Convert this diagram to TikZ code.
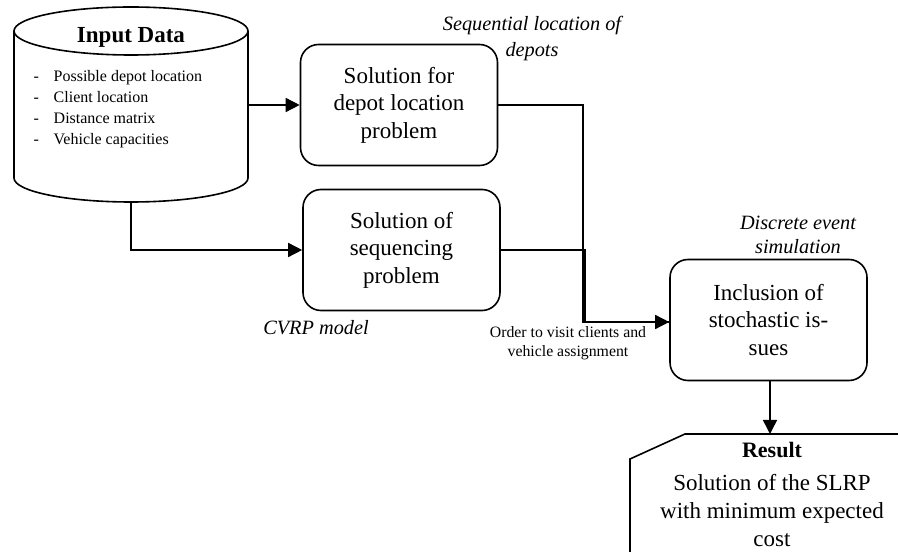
\documentclass[tikz,border=0pt]{standalone}
\usepackage{fontspec}
\setmainfont{Liberation Serif}
\usetikzlibrary{arrows.meta,calc}
\begin{document}
\begin{tikzpicture}[x=1pt,y=1pt,
  line width=1.4pt,
  proc/.style={draw,line width=1.6pt,rounded corners=18pt,minimum width=197pt,minimum height=121pt,align=center,inner sep=2pt,font=\fontsize{23}{27.5}\selectfont},
  conn/.style={line width=1.5pt},
  arr/.style={conn,-{Triangle[length=14pt,width=14pt]}},
  lab/.style={align=center,font=\fontsize{20.3}{26.5}\selectfont\itshape},
  item/.style={anchor=base west,inner sep=0pt,font=\fontsize{16}{20}\selectfont}]
\useasboundingbox (0,0) rectangle (898,552);
\clip (0,0) rectangle (898,552);
% cylinder
\draw[line width=1.6pt] (14,521) -- (14,374) arc[start angle=180,end angle=360,x radius=117,y radius=24] -- (248,521);
\draw[line width=1.6pt] (131,521) ellipse[x radius=117,y radius=24];
\node[font=\fontsize{23}{27}\selectfont\bfseries] (title) at (131,515) {Input Data};
\coordinate (inpR) at (248,447);
\coordinate (inpB) at (131,350);
\node[item] (d1) at (33,470) {-};
\node[item] (t1) at (53,470) {Possible depot location};
\node[item] (d2) at (33,449) {-};
\node[item] (t2) at (53,449) {Client location};
\node[item] (d3) at (33,428) {-};
\node[item] (t3) at (53,428) {Distance matrix};
\node[item] (d4) at (33,407) {-};
\node[item] (t4) at (53,407) {Vehicle capacities};
% boxes
\node[proc] (b1) at (399,447) {Solution for\\depot location\\problem};
\node[proc] (b2) at (401.5,302) {Solution of\\sequencing\\problem};
\node[proc] (b3) at (768.5,232) {Inclusion of\\stochastic is-\\sues};
% result card
\draw[line width=1.6pt] (910,118) -- (685,118) -- (630,93) -- (630,-10);
\coordinate (resT) at (770,118);
\node[align=center,font=\fontsize{23}{28}\selectfont] (res) at (772,58) {{\fontsize{22}{26}\selectfont\bfseries Result}\\[5pt]Solution of the SLRP\\with minimum expected\\cost};
% labels
\node[lab] (l1) at (532,513.5) {Sequential location of\\depots};
\node[lab] (l2) at (316,224) {CVRP model};
\node[lab,font=\fontsize{20.3}{24}\selectfont\itshape] (l3) at (798,317) {Discrete event\\simulation};
\node[align=center,font=\fontsize{15.8}{19}\selectfont] (l4) at (568,208.5) {Order to visit clients and\\vehicle assignment};
% connectors
\coordinate (j1) at (583,230);
\coordinate (j2) at (585,230);
\draw[arr] (inpR) -- (b1.west |- inpR);
\draw[arr] (inpB) |- (b2.west);
\draw[conn] (b1.east) -| (j1) -- (j1 -| b3.west);
\draw[arr] (b2.east) -| (j2) -- (j2 -| b3.west);
\draw[arr] (b3.south -| resT) -- (resT);
\end{tikzpicture}
\end{document}
